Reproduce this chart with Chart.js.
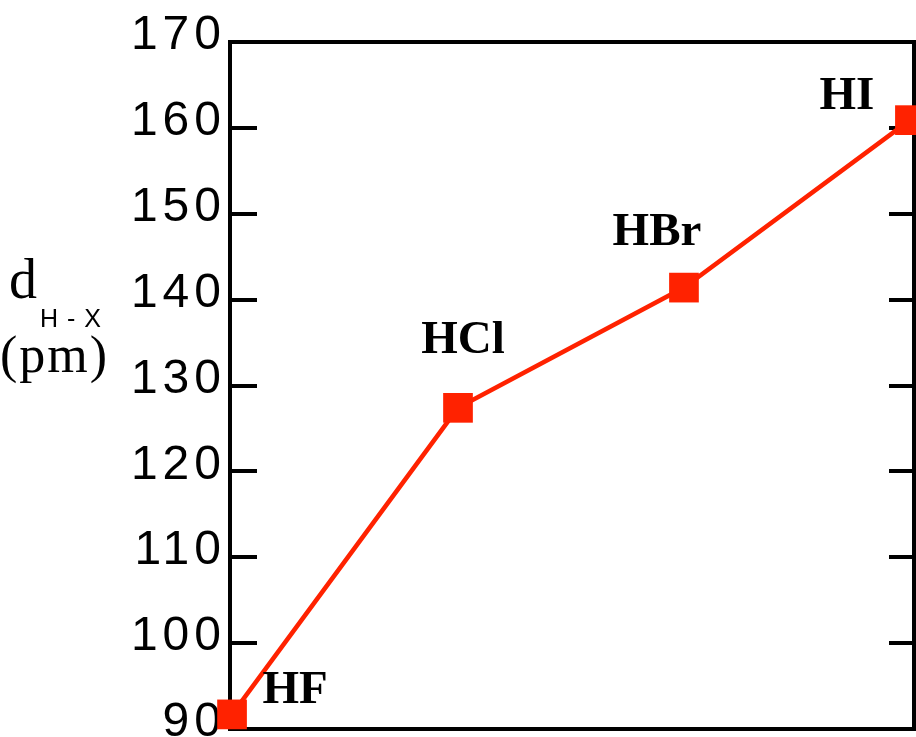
<!DOCTYPE html>
<html>
<head>
<meta charset="utf-8">
<script src="https://cdn.jsdelivr.net/npm/chart.js@4/dist/chart.umd.min.js"></script>
<style>
  html, body { margin: 0; padding: 0; background: #fff; overflow: hidden; }
  #wrap { position: absolute; left: 0; top: 0; width: 940px; height: 780px; }
</style>
</head>
<body>
<div id="wrap"><canvas id="c"></canvas></div>
<script>
// ---- data ----
const categories = ['HF', 'HCl', 'HBr', 'HI'];
const positions = [0, 1, 2, 3];
const bondLengths = [91.7, 127.4, 141.4, 160.9];
const yTicks = [90, 100, 110, 120, 130, 140, 150, 160, 170];

const RED = '#ff2200';

const points = positions.map((p, i) => ({ x: p, y: bondLengths[i] }));

const labelOffsets = [
  { dx: 63, dy: -11 },
  { dx: 5, dy: -55 },
  { dx: -27, dy: -43 },
  { dx: -63, dy: -11 }
];

const framePlugin = {
  id: 'frame',
  beforeDraw(chart) {
    chart.ctx.letterSpacing = '5px';
  },
  beforeDatasetsDraw(chart) {
    const { ctx, chartArea: a, scales } = chart;
    const ys = scales.y;
    ctx.save();
    ctx.strokeStyle = '#000';
    ctx.lineWidth = 4;
    ctx.lineCap = 'butt';
    ctx.strokeRect(a.left, a.top, a.right - a.left, a.bottom - a.top);
    ys.ticks.forEach(t => {
      const y = Math.round(ys.getPixelForValue(t.value));
      ctx.beginPath();
      ctx.moveTo(a.left, y); ctx.lineTo(a.left + 27, y);
      ctx.moveTo(a.right - 25, y); ctx.lineTo(a.right, y);
      ctx.stroke();
    });
    ctx.restore();
  },
  afterDatasetsDraw(chart) {
    const { ctx } = chart;
    const meta = chart.getDatasetMeta(0);
    ctx.save();
    ctx.letterSpacing = '0px';
    ctx.fillStyle = '#000';
    ctx.font = 'bold 47px "Liberation Serif", serif';
    ctx.textAlign = 'center';
    ctx.textBaseline = 'alphabetic';
    meta.data.forEach((pt, i) => {
      const o = labelOffsets[i];
      ctx.fillText(categories[i], pt.x + o.dx, pt.y + o.dy);
    });
    // y-axis title
    ctx.textAlign = 'left';
    ctx.font = '56px "Liberation Serif", serif';
    ctx.fillText('d', 9, 298);
    ctx.font = '25px "Liberation Sans", sans-serif';
    ctx.letterSpacing = '1px';
    ctx.fillText('H - X', 40, 327);
    ctx.font = '52px "Liberation Serif", serif';
    ctx.letterSpacing = '2px';
    ctx.fillText('(pm)', 0, 372);
    ctx.restore();
  }
};

new Chart(document.getElementById('c'), {
  type: 'line',
  data: {
    datasets: [{
      data: points,
      borderColor: RED,
      backgroundColor: RED,
      borderWidth: 4.5,
      pointStyle: 'rect',
      pointRadius: 21,
      pointHoverRadius: 21,
      pointBorderWidth: 0,
      pointBackgroundColor: RED,
      clip: false,
      tension: 0
    }]
  },
  options: {
    responsive: true,
    maintainAspectRatio: false,
    animation: false,
    events: [],
    layout: { padding: { left: 0, top: 42, right: 26, bottom: 51 } },
    plugins: { legend: { display: false }, tooltip: { enabled: false }, title: { display: false } },
    scales: {
      x: {
        type: 'linear',
        min: -0.009,
        max: 3.018,
        display: false
      },
      y: {
        type: 'linear',
        min: yTicks[0],
        max: yTicks[yTicks.length - 1],
        afterBuildTicks: s => { s.ticks = yTicks.map(v => ({ value: v })); },
        afterFit: s => { s.width = 230; },
        grid: { display: false, drawTicks: false },
        border: { display: false },
        ticks: {
          color: '#000',
          padding: 4,
          labelOffset: -6,
          font: { family: '"Liberation Sans", sans-serif', size: 48 }
        }
      }
    }
  },
  plugins: [framePlugin]
});
</script>
</body>
</html>
